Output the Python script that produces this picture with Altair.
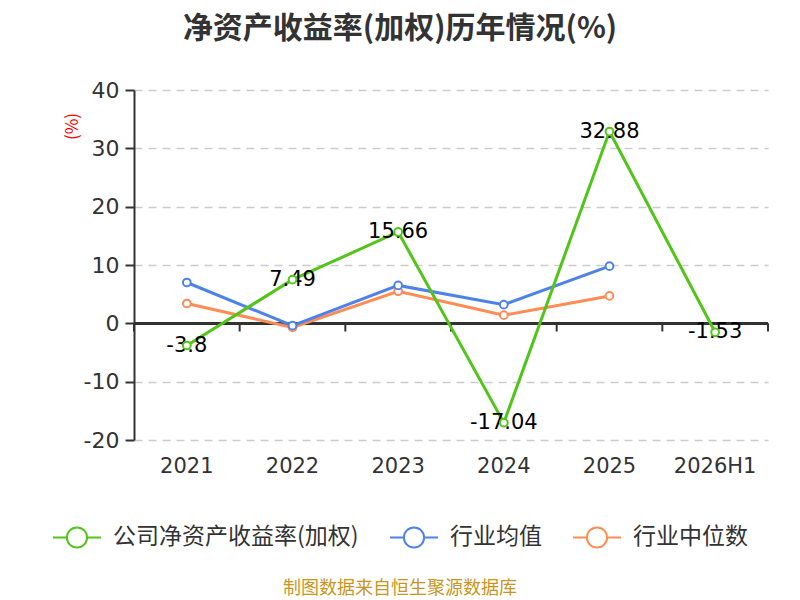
import altair as alt
import pandas as pd

years = ["2021", "2022", "2023", "2024", "2025", "2026H1"]
roe_company = [-3.8, 7.49, 15.66, -17.04, 32.88, -1.53]
roe_mean = [7.0, -0.4, 6.5, 3.2, 9.8]
roe_median = [3.4, -0.7, 5.5, 1.4, 4.7]

series_names = ["公司净资产收益率(加权)", "行业均值", "行业中位数"]
series_colors = ["#52c41a", "#4e82e8", "#ff8c55"]

FONT = "DejaVu Sans, Noto Sans CJK SC"
CJK = "Noto Sans CJK SC"

rows = []
for name, vals in zip(series_names, [roe_company, roe_mean, roe_median]):
    for y, v in zip(years, vals):
        rows.append({"year": y, "value": v, "series": name, "label": f"{v:g}"})
df = pd.DataFrame(rows)

x_scale = alt.Scale(domain=years, paddingInner=0, paddingOuter=0)
y_scale = alt.Scale(domain=[-20, 40], nice=False)
color_scale = alt.Scale(domain=series_names, range=series_colors)

x_axis = alt.Axis(
    domain=False, ticks=False, grid=False, labelAngle=0, labelFontSize=21,
    labelColor="#333", labelPadding=15, labelFont=FONT, bandPosition=0.5,
)
x_enc = alt.X("year:N", scale=x_scale, sort=years, title=None, axis=x_axis)

y_axis = alt.Axis(
    values=[-20, -10, 0, 10, 20, 30, 40], labelExpr="'' + datum.value",
    grid=True, domainColor="#333", domainWidth=2, tickColor="#333", tickWidth=2,
    tickSize=9, labelFontSize=22, labelColor="#333", labelPadding=6,
    labelFont=FONT, gridColor="#cccccc", gridDash=[8, 6], gridWidth=1.5,
    titleColor="red", titleFontSize=17, titleFontWeight="normal",
    titleFont=CJK, titleX=-53, titleY=36,
)
y_enc = alt.Y("value:Q", scale=y_scale, title="(%)", axis=y_axis)

legend = alt.Legend(
    title=None, orient="none", direction="horizontal", legendX=-82, legendY=422,
    symbolType="M-1,0L-0.42,0M0.42,0L1,0M-0.42,0A0.42,0.42 0 1,1 0.42,0A0.42,0.42 0 1,1 -0.42,0Z",
    symbolSize=2304, symbolStrokeWidth=2, symbolFillColor="white",
    labelFontSize=23, labelFont=CJK, labelColor="#333", labelOffset=11,
    columnPadding=27, labelLimit=400,
)
color_enc = alt.Color("series:N", scale=color_scale, legend=legend)

base = alt.Chart(df)


def series_layer(name):
    d = base.transform_filter(alt.datum.series == name)
    line = d.mark_line(strokeWidth=3).encode(x=x_enc, y=y_enc, color=color_enc)
    pts = d.mark_point(filled=False, fill="white", fillOpacity=1, size=60,
                       strokeWidth=2, opacity=1).encode(x=x_enc, y=y_enc, color=color_enc)
    return line, pts


zero_line = alt.Chart(df).mark_rule(color="#333", strokeWidth=2).encode(
    y=alt.datum(0, scale=y_scale, axis=y_axis)
)

tick_df = pd.DataFrame({"year": years, "value": [0] * len(years), "low": [-1.4] * len(years)})
ticks = alt.Chart(tick_df).mark_rule(color="#333", strokeWidth=2).encode(
    x=alt.X("year:N", scale=x_scale, sort=years, bandPosition=0, title=None, axis=x_axis),
    y=alt.Y("value:Q", scale=y_scale, title="(%)", axis=y_axis),
    y2="low:Q",
)
end_tick = alt.Chart(tick_df.tail(1)).mark_rule(color="#333", strokeWidth=2).encode(
    x=alt.X("year:N", scale=x_scale, sort=years, bandPosition=1, title=None, axis=x_axis),
    y=alt.Y("value:Q", scale=y_scale, title="(%)", axis=y_axis),
    y2="low:Q",
)

o_line, o_pts = series_layer(series_names[2])
b_line, b_pts = series_layer(series_names[1])
g_line, g_pts = series_layer(series_names[0])

labels = base.transform_filter(alt.datum.series == series_names[0]).mark_text(
    fontSize=21, color="black", font=FONT
).encode(x=x_enc, y=y_enc, text="label:N")

source = alt.Chart(pd.DataFrame({"t": ["制图数据来自恒生聚源数据库"]})).mark_text(
    fontSize=18, color="#c8961e", font=CJK
).encode(x=alt.value(266), y=alt.value(499), text="t:N")

chart = alt.layer(
    ticks, end_tick, zero_line,
    o_line, b_line, g_line, labels, o_pts, b_pts, g_pts, source,
).properties(
    width=634,
    height=350,
    padding={"left": 126, "top": 82, "right": 16, "bottom": 160},
    autosize=alt.AutoSizeParams(type="none"),
    title=alt.TitleParams(
        "净资产收益率(加权)历年情况(%)", fontSize=30, fontWeight="bold",
        color="#333", font=CJK, anchor="middle", dx=-51, offset=35,
    ),
).configure_view(stroke=None)

chart.save("out.html", embed_options={"renderer": "svg", "actions": False})
